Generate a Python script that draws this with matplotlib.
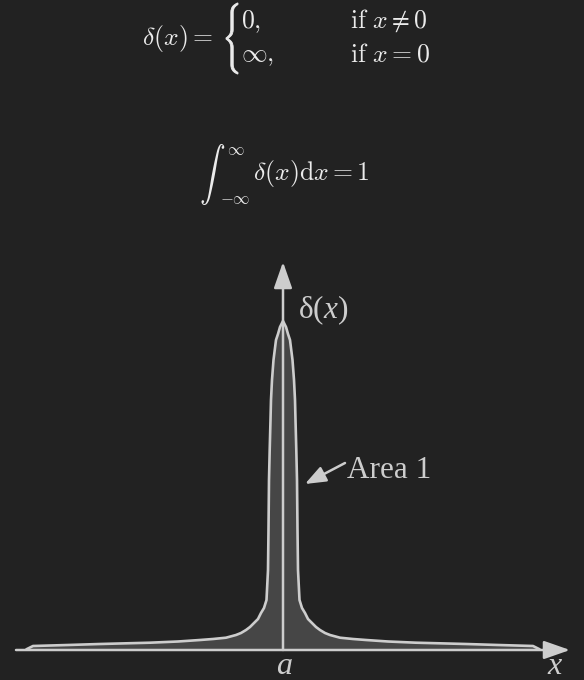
import numpy as np
import matplotlib
matplotlib.use("Agg")
import matplotlib.pyplot as plt
from matplotlib.textpath import TextPath
from matplotlib.patches import PathPatch
from matplotlib.font_manager import FontProperties
from matplotlib.transforms import Affine2D

plt.rcParams['mathtext.fontset'] = 'custom'
plt.rcParams['mathtext.rm'] = 'Liberation Serif'
plt.rcParams['mathtext.it'] = 'Liberation Serif:italic'

# curve: distance from a (right half, mirrored) and height
offsets = [0, 3, 5, 7, 9.5, 11, 12, 12.5, 13.3, 14, 14.5, 15, 16.5, 19, 22, 25, 29,
           33, 37, 42, 47, 57, 70, 83, 105, 133, 160, 183, 215, 250, 256]
heights = [329, 323, 316, 310, 290, 270, 250, 230, 200, 170, 120, 80, 50, 42, 37, 31, 27,
           23, 20, 17, 15, 12.3, 11, 10, 8.5, 7.3, 6.6, 6, 5, 4, 1]

xs = np.array([-o for o in offsets[::-1]] + offsets[1:])
ys = np.array(heights[::-1] + heights[1:])

bg = '#222222'
line_col = '#cdcdcd'
fill_col = '#464646'
txt_col = '#ebebeb'

fig = plt.figure(figsize=(5.84, 6.80), dpi=100, facecolor=bg)
ax = fig.add_axes([0, 0, 1, 1])
ax.set_facecolor(bg)
ax.set_xlim(-283, 301)
ax.set_ylim(-30, 650)
ax.axis('off')

# spike
ax.fill_between(xs, 0, ys, color=fill_col, lw=0)
ax.plot(xs, ys, color=line_col, lw=1.9, solid_joinstyle='round')

# axes with arrows
head = '-|>,head_length=0.8,head_width=0.28'
ax.annotate('', xy=(287, 0), xytext=(-267, 0),
            arrowprops=dict(arrowstyle=head, mutation_scale=20, lw=1.8,
                            color=line_col, shrinkA=0, shrinkB=0))
ax.annotate('', xy=(0, 388), xytext=(0, 0),
            arrowprops=dict(arrowstyle=head, mutation_scale=20, lw=1.8,
                            color=line_col, shrinkA=0, shrinkB=0))

# labels
ax.text(15, 340, r'$\mathrm{δ(}x\mathrm{)}$', fontsize=22.5, color=line_col,
        ha='left', va='center', math_fontfamily='custom')
ax.text(64, 180, 'Area 1', fontsize=22.5, family='Liberation Serif',
        color=line_col, va='center', ha='left')
ax.annotate('', xy=(22, 166), xytext=(62, 187),
            arrowprops=dict(arrowstyle='-|>,head_length=0.9,head_width=0.35',
                            mutation_scale=14, lw=1.8, color=line_col,
                            shrinkA=0, shrinkB=0))
ax.text(1, -24, r'$a$', fontsize=23, color=line_col, ha='center',
        va='baseline', math_fontfamily='custom')
ax.text(272, -24, r'$x$', fontsize=23, color=line_col, ha='center',
        va='baseline', math_fontfamily='custom')

# formulas at the top: delta(x) = { cases
fs = 18.5
ax.text(-141, 605, r'$\delta(x) =$', fontsize=fs, color=txt_col,
        ha='left', va='baseline', math_fontfamily='cm')
brace = TextPath((0, 0), r'$\{$', size=10, prop=FontProperties(math_fontfamily='cm'))
ext = brace.get_extents()
tr = Affine2D().translate(-ext.x0, -ext.y0).scale(12 / ext.width, 71 / ext.height)
ax.add_patch(PathPatch(brace, transform=tr.translate(-57, 576) + ax.transData,
                       facecolor=txt_col, edgecolor=txt_col, lw=0.6))
ax.text(-42, 622, r'$0,$', fontsize=fs, color=txt_col, ha='left',
        va='baseline', math_fontfamily='cm')
ax.text(-42, 589, r'$\infty,$', fontsize=fs, color=txt_col, ha='left',
        va='baseline', math_fontfamily='cm')
ax.text(67, 622, r'$\mathrm{if}\ x \neq 0$', fontsize=fs, color=txt_col,
        ha='left', va='baseline', math_fontfamily='cm')
ax.text(67, 589, r'$\mathrm{if}\ x = 0$', fontsize=fs, color=txt_col,
        ha='left', va='baseline', math_fontfamily='cm')

# integral: sign, limits, then the body
ax.text(-71, 476, r'$\int$', fontsize=18.5, color=txt_col, ha='center',
        va='center', math_fontfamily='cm')
ax.text(-47, 500, r'$\infty$', fontsize=12, color=txt_col, ha='center',
        va='center', math_fontfamily='cm')
ax.text(-48, 451, r'$-\infty$', fontsize=12, color=txt_col, ha='center',
        va='center', math_fontfamily='cm')
ax.text(-30, 476.5, r'$\delta(x)\mathrm{d}x = 1$', fontsize=fs, color=txt_col,
        ha='left', va='center', math_fontfamily='cm')

fig.savefig('out.png', dpi=100, facecolor=bg)
